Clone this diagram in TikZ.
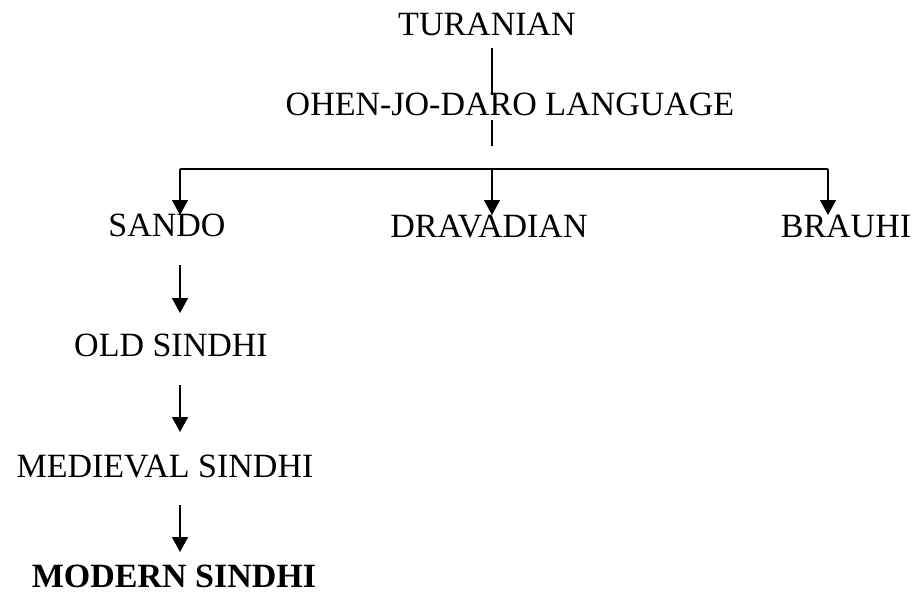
\documentclass[tikz,border=0pt]{standalone}
\usepackage{fontspec}
\setmainfont{Liberation Serif}
\usetikzlibrary{arrows.meta}
\begin{document}
\begin{tikzpicture}[x=1pt,y=-1pt,
  lbl/.style={anchor=base,inner sep=0pt,font=\fontsize{34}{40}\selectfont},
  conn/.style={line width=1.5pt,black},
  arr/.style={conn,-{Triangle[length=15pt,width=16pt]}}]
\useasboundingbox (0,0) rectangle (917,599);
\node[lbl] (tur) at (487,36) {TURANIAN};
\node[lbl] (ohen) at (510,116) {OHEN-JO-DARO LANGUAGE};
\node[lbl] (sando) at (167,236) {SANDO};
\node[lbl] (drav) at (489,237) {DRAVADIAN};
\node[lbl] (brau) at (846,237) {BRAUHI};
\node[lbl] (old) at (171,356) {OLD SINDHI};
\node[lbl] (med) at (165,477) {MEDIEVAL SINDHI};
\node[lbl,font=\fontsize{34}{40}\selectfont\bfseries] (mod) at (174,587) {MODERN SINDHI};
% free ends
\coordinate (t1) at (492,48);
\coordinate (t2) at (492,95);
\coordinate (o1) at (492,120);
\coordinate (o2) at (492,146);
\coordinate (bl) at (180,169);
\coordinate (bm) at (492,169);
\coordinate (br) at (828,169);
\coordinate (sa) at (180,215);
\coordinate (da) at (492,215);
\coordinate (ba) at (828,215);
\coordinate (s1) at (180,265);
\coordinate (s2) at (180,313);
\coordinate (m1) at (180,385);
\coordinate (m2) at (180,432);
\coordinate (n1) at (180,505);
\coordinate (n2) at (180,552);
\draw[conn] (t1) -- (t2);
\draw[conn] (o1) -- (o2);
\draw[conn] (bl) -- (br);
\draw[arr] (bl) -- (sa);
\draw[arr] (bm) -- (da);
\draw[arr] (br) -- (ba);
\draw[arr] (s1) -- (s2);
\draw[arr] (m1) -- (m2);
\draw[arr] (n1) -- (n2);
\end{tikzpicture}
\end{document}
